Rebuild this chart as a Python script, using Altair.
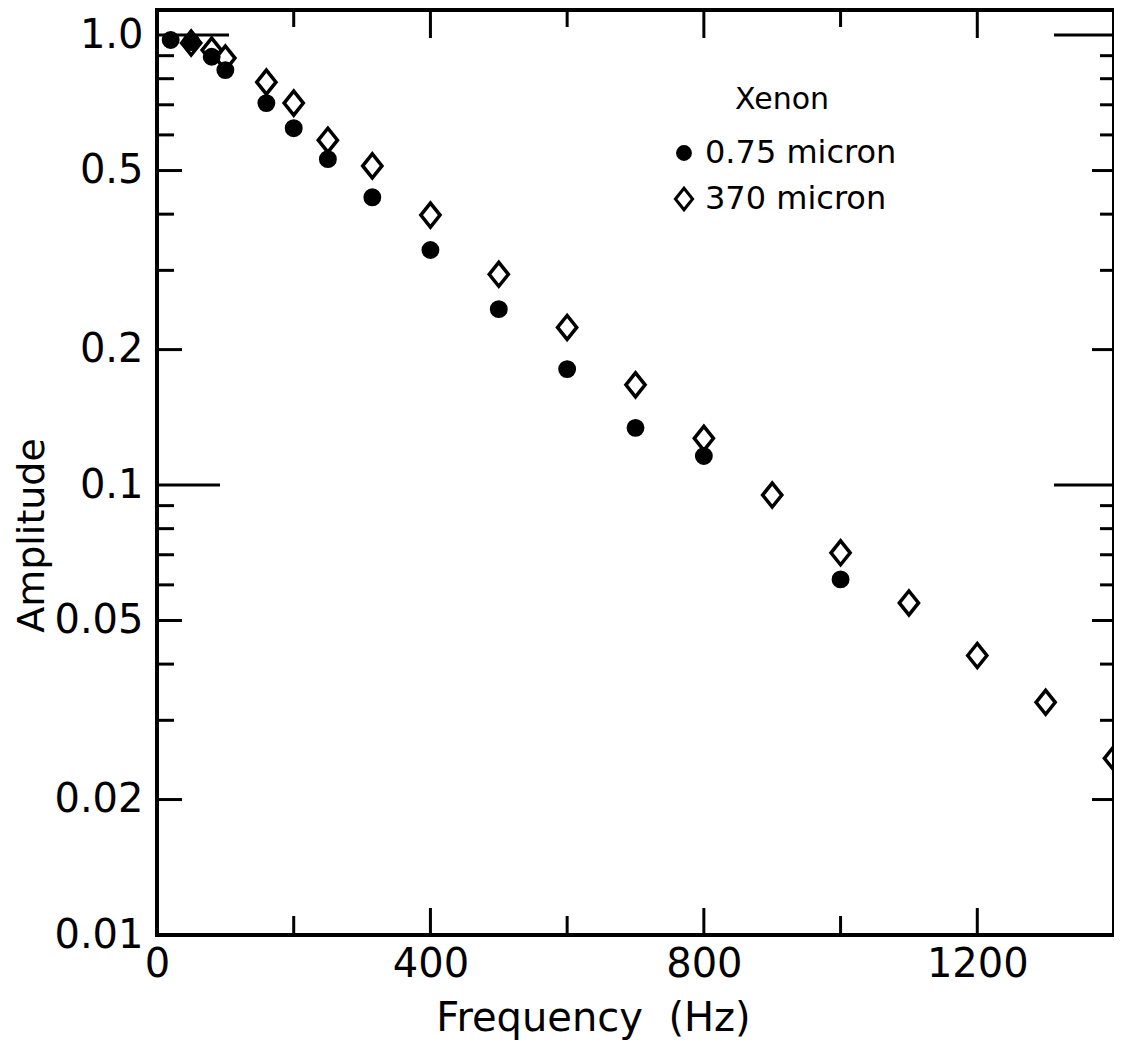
import altair as alt
import pandas as pd

# ---- data ----
series_names = ["0.75 micron", "370 micron"]
freq_small = [20, 50, 80, 100, 160, 200, 250, 315, 400, 500, 600, 700, 800, 1000]
amp_small = [0.975, 0.965, 0.895, 0.836, 0.706, 0.621, 0.530, 0.436, 0.333, 0.246, 0.181, 0.134, 0.116, 0.0617]
freq_large = [50, 80, 100, 160, 200, 250, 315, 400, 500, 600, 700, 800, 900, 1000, 1100, 1200, 1300, 1400]
amp_large = [0.96, 0.926, 0.889, 0.786, 0.706, 0.584, 0.512, 0.398, 0.294, 0.224, 0.167, 0.127, 0.095, 0.0707, 0.0547, 0.0418, 0.0329, 0.0247]

x_label_values = [0, 400, 800, 1200]
y_label_values = [1.0, 0.5, 0.2, 0.1, 0.05, 0.02, 0.01]

x_ticks_long = [400, 800, 1200]
x_ticks_short = [200, 600, 1000]
y_ticks_mid = [0.5, 0.2, 0.05, 0.02]
y_ticks_short = [0.9, 0.8, 0.7, 0.6, 0.4, 0.3, 0.09, 0.08, 0.07, 0.06, 0.04, 0.03]

W, H = 957, 925
FONT = "DejaVu Sans"

df = pd.DataFrame(
    {"freq": freq_small + freq_large,
     "amp": amp_small + amp_large,
     "series": [series_names[0]] * len(freq_small) + [series_names[1]] * len(freq_large)}
)

xscale = alt.Scale(domain=[0, 1400], nice=False, zero=False)
yscale = alt.Scale(type="log", domain=[0.01, 1.137], nice=False)

circle_path = "M-0.6,0A0.6,0.6 0 1,0 0.6,0A0.6,0.6 0 1,0 -0.6,0Z"
diamond_path = "M-0.8,0L0,-1L0.8,0L0,1Z"

legend = alt.Legend(
    title="Xenon", orient="none", legendX=511, legendY=75, padding=0,
    titleFont=FONT, titleFontSize=30, titleFontWeight="normal", titleColor="black",
    titleAnchor="middle", titlePadding=22,
    labelFont=FONT, labelFontSize=32, labelColor="black", labelOffset=5, labelLimit=0,
    symbolSize=460, symbolStrokeWidth=3, symbolStrokeColor="black", rowPadding=13,
)

points = alt.Chart(df).mark_point(
    strokeWidth=3.5, opacity=1, fillOpacity=1, strokeOpacity=1, clip=True
).encode(
    x=alt.X("freq:Q", scale=xscale, axis=alt.Axis(
        values=x_label_values, title="Frequency\u00a0\u00a0(Hz)", ticks=False, domain=False, grid=False,
        labelExpr="toString(datum.value)", labelFlush=False,
        labelFont=FONT, labelFontSize=40, labelColor="black", labelPadding=9,
        titleFont=FONT, titleFontSize=40, titleFontWeight="normal", titleColor="black",
        titleX=436, titleY=95, titleAlign="center", titleBaseline="alphabetic",
    )),
    y=alt.Y("amp:Q", scale=yscale, axis=alt.Axis(
        values=y_label_values, title="Amplitude", ticks=False, domain=False, grid=False,
        labelExpr="datum.value == 1 ? '1.0' : toString(datum.value)", labelFlush=False,
        labelFont=FONT, labelFontSize=40, labelColor="black", labelPadding=14,
        titleFont=FONT, titleFontSize=38, titleFontWeight="normal", titleColor="black",
        titleAngle=270, titleX=-114, titleY=525, titleAlign="center", titleBaseline="alphabetic",
    )),
    shape=alt.Shape("series:N", scale=alt.Scale(domain=series_names, range=[circle_path, diamond_path]), legend=legend),
    fill=alt.Fill("series:N", scale=alt.Scale(domain=series_names, range=["black", "transparent"]), legend=legend),
    stroke=alt.Stroke("series:N", scale=alt.Scale(domain=series_names, range=["black", "black"]), legend=legend),
    size=alt.value(576),
)


def yticks(vals, length, side):
    d = pd.DataFrame({"amp": vals})
    if side == "left":
        xv, x2v = 0, length
    else:
        xv, x2v = W, W - length
    return alt.Chart(d).mark_rule(color="black", strokeWidth=3).encode(
        y=alt.Y("amp:Q", scale=yscale),
        x=alt.value(xv), x2=alt.value(x2v),
    )


def xticks(vals, length, side):
    d = pd.DataFrame({"freq": vals})
    if side == "bottom":
        yv, y2v = H, H - length
    else:
        yv, y2v = 0, length
    return alt.Chart(d).mark_rule(color="black", strokeWidth=3).encode(
        x=alt.X("freq:Q", scale=xscale),
        y=alt.value(yv), y2=alt.value(y2v),
    )


tick_layers = [
    yticks([1.0], 72, "left"), yticks([0.1], 63, "left"),
    yticks(y_ticks_mid, 25, "left"), yticks(y_ticks_short, 17, "left"),
    yticks([1.0, 0.1], 60, "right"),
    yticks(y_ticks_mid, 22, "right"), yticks(y_ticks_short, 14, "right"),
    xticks(x_ticks_long, 27, "bottom"), xticks(x_ticks_short, 19, "bottom"),
    xticks(x_ticks_long, 28, "top"), xticks(x_ticks_short, 17, "top"),
]

chart = alt.layer(points, *tick_layers).properties(
    width=W, height=H,
    autosize=alt.AutoSizeParams(type="none"),
    padding={"left": 149, "top": 2, "right": 0, "bottom": 108},
    background="white",
).configure_view(stroke="black", strokeWidth=4, fill="white")

chart.save("out.html", embed_options={"renderer": "svg", "actions": False})
